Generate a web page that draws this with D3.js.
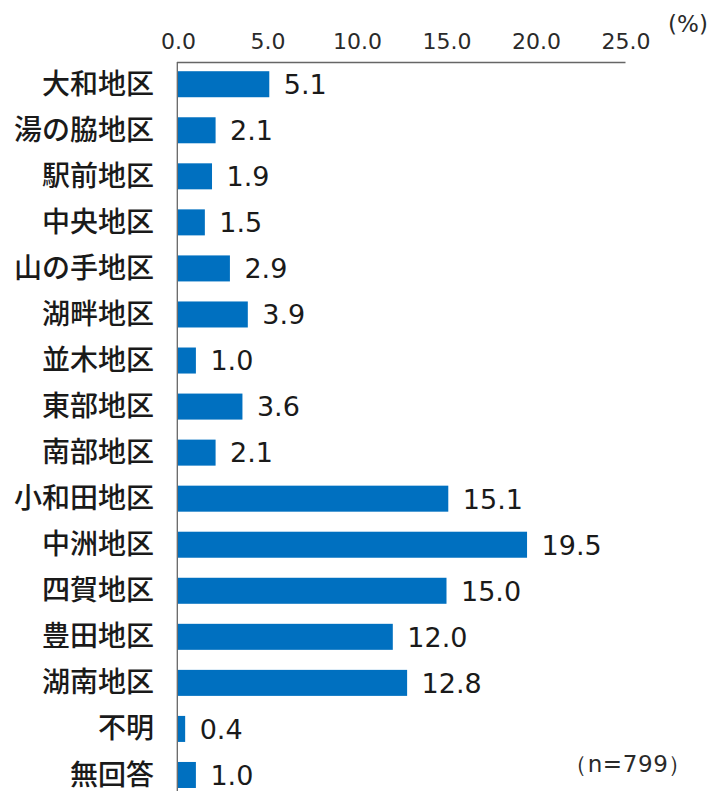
<!DOCTYPE html>
<html>
<head>
<meta charset="utf-8">
<script src="https://cdn.jsdelivr.net/npm/d3@7"></script>
<style>
  html, body { margin: 0; padding: 0; background: #fff; }
  svg { display: block; font-family: "DejaVu Sans", "Noto Sans CJK JP", sans-serif; }
</style>
</head>
<body>
<svg id="chart" width="715" height="791"></svg>
<script>
// Residential district of respondents (%)
const districts = ["大和地区", "湯の脇地区", "駅前地区", "中央地区", "山の手地区", "湖畔地区",
  "並木地区", "東部地区", "南部地区", "小和田地区", "中洲地区", "四賀地区",
  "豊田地区", "湖南地区", "不明", "無回答"];
const shares = [5.1, 2.1, 1.9, 1.5, 2.9, 3.9, 1.0, 3.6, 2.1, 15.1, 19.5, 15.0, 12.0, 12.8, 0.4, 1.0];
const tickValues = [0, 5, 10, 15, 20, 25];
const sampleNote = "（n=799）";
const unitNote = "(%)";

const svg = d3.select("#chart");
const plotLeft = 178, plotRight = 625.5, plotTop = 61.2, plotBottom = 798;
const numFont = "'DejaVu Sans', sans-serif";
const cjkFont = "'Noto Sans CJK JP', sans-serif";

const x = d3.scaleLinear().domain([0, 25]).range([plotLeft, plotRight]);
const y = d3.scaleBand().domain(districts).range([plotTop, plotBottom])
  .paddingInner(0.435).paddingOuter(0.2175);

// bars
svg.append("g").selectAll("rect")
  .data(districts)
  .join("rect")
  .attr("x", x(0))
  .attr("y", d => y(d))
  .attr("width", (d, i) => x(shares[i]) - x(0))
  .attr("height", y.bandwidth())
  .attr("fill", "#0070C0");

// top axis: tick labels only
const xAxis = d3.axisTop(x)
  .tickValues(tickValues)
  .tickFormat(d3.format(".1f"))
  .tickSize(0)
  .tickPadding(14);
const gx = svg.append("g").attr("transform", "translate(0,62.5)").call(xAxis);
gx.select(".domain").remove();
gx.selectAll("text")
  .attr("font-size", 22)
  .attr("fill", "#2a2a2a")
  .attr("font-family", numFont);

// axis lines
svg.append("line")
  .attr("x1", x(0) - 1).attr("x2", x(25))
  .attr("y1", 62.5).attr("y2", 62.5)
  .attr("stroke", "#666").attr("stroke-width", 1.3);
svg.append("line")
  .attr("x1", x(0) - 0.7).attr("x2", x(0) - 0.7)
  .attr("y1", 62).attr("y2", 791)
  .attr("stroke", "#666").attr("stroke-width", 1.3);

// category labels
const yAxis = d3.axisLeft(y).tickSize(0).tickPadding(24);
const gy = svg.append("g").attr("transform", `translate(${plotLeft},0)`).call(yAxis);
gy.select(".domain").remove();
gy.selectAll("text")
  .attr("font-size", 28)
  .attr("font-weight", 500)
  .attr("fill", "#1a1a1a")
  .attr("dy", "0.34em")
  .attr("font-family", cjkFont);

// value labels
svg.append("g").selectAll("text")
  .data(districts)
  .join("text")
  .attr("x", (d, i) => x(shares[i]) + 14.5)
  .attr("y", d => y(d) + y.bandwidth() / 2)
  .attr("dy", "0.365em")
  .attr("font-size", 27)
  .attr("font-family", numFont)
  .attr("fill", "#1a1a1a")
  .text((d, i) => d3.format(".1f")(shares[i]));

// unit and sample size notes
svg.append("text")
  .attr("x", 688).attr("y", 32)
  .attr("text-anchor", "middle")
  .attr("font-size", 23)
  .attr("font-family", numFont)
  .attr("fill", "#2a2a2a")
  .text(unitNote);
svg.append("text")
  .attr("x", 692).attr("y", 772)
  .attr("text-anchor", "end")
  .attr("font-size", 23)
  .attr("letter-spacing", 0.6)
  .attr("font-family", numFont)
  .attr("fill", "#2a2a2a")
  .text(sampleNote);
</script>
</body>
</html>
